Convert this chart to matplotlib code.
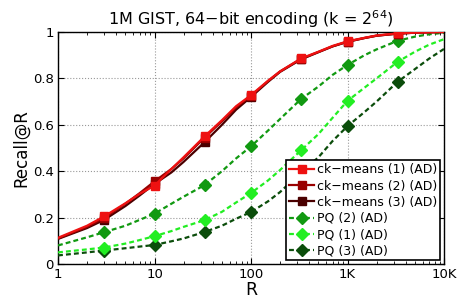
import matplotlib
matplotlib.use("Agg")
import matplotlib.pyplot as plt
from matplotlib.ticker import LogLocator, NullFormatter

R = [1, 2, 3, 5, 7, 10, 15, 20, 33, 50, 70, 100, 150, 200, 330, 500, 700,
     1000, 1500, 2000, 3300, 5000, 7000, 10000]

ck1 = [0.113, 0.165, 0.205, 0.262, 0.302, 0.338, 0.41, 0.46, 0.55, 0.62, 0.68,
       0.728, 0.79, 0.83, 0.886, 0.915, 0.94, 0.96, 0.975, 0.985, 0.994, 0.997,
       0.999, 1.0]
ck2 = [0.11, 0.16, 0.198, 0.26, 0.305, 0.356, 0.41, 0.455, 0.545, 0.615, 0.675,
       0.725, 0.788, 0.83, 0.884, 0.914, 0.938, 0.958, 0.974, 0.984, 0.993, 0.997,
       0.999, 1.0]
ck3 = [0.108, 0.155, 0.19, 0.25, 0.295, 0.345, 0.395, 0.44, 0.525, 0.6, 0.665,
       0.72, 0.785, 0.828, 0.882, 0.913, 0.938, 0.958, 0.974, 0.984, 0.993, 0.997,
       0.999, 1.0]
pq2 = [0.08, 0.115, 0.137, 0.165, 0.19, 0.217, 0.26, 0.29, 0.34, 0.4, 0.455,
       0.507, 0.575, 0.625, 0.711, 0.765, 0.815, 0.858, 0.9, 0.925, 0.962, 0.98,
       0.99, 0.997]
pq1 = [0.05, 0.063, 0.071, 0.088, 0.103, 0.12, 0.142, 0.16, 0.189, 0.225, 0.265,
       0.306, 0.36, 0.405, 0.49, 0.56, 0.63, 0.703, 0.76, 0.8, 0.871, 0.915,
       0.945, 0.969]
pq3 = [0.037, 0.05, 0.058, 0.068, 0.075, 0.082, 0.098, 0.11, 0.138, 0.165, 0.195,
       0.224, 0.27, 0.31, 0.395, 0.46, 0.53, 0.594, 0.655, 0.7, 0.785, 0.84,
       0.885, 0.927]

marks = [2, 5, 8, 11, 14, 17, 20]

series = [
    ("ck\u2212means (1) (AD)", ck1, "#ee1111", "-", "s", 6),
    ("ck\u2212means (2) (AD)", ck2, "#990000", "-", "s", 5),
    ("ck\u2212means (3) (AD)", ck3, "#4a0000", "-", "s", 4),
    ("PQ (2) (AD)", pq2, "#119911", "--", "D", 3),
    ("PQ (1) (AD)", pq1, "#22ee22", "--", "D", 2),
    ("PQ (3) (AD)", pq3, "#0b4d0b", "--", "D", 1),
]

fig = plt.figure(figsize=(4.61, 3.01), dpi=100)
ax = fig.add_axes([58/461, 1-264/301, (444-58)/461, (264-32)/301])

for label, y, c, ls, m, z in series:
    kw = {}
    if ls == "--":
        kw["dashes"] = (2.2, 1.4)
    ax.plot(R, y, color=c, linestyle=ls, linewidth=1.6, marker=m,
            markersize=5.8 if m == "s" else 6.2, markevery=marks,
            markerfacecolor=c, markeredgecolor=c, label=label, zorder=z + 2, **kw)

ax.set_xscale("log")
ax.set_xlim(1, 10000)
ax.set_ylim(0, 1)
ax.set_xticks([1, 10, 100, 1000, 10000])
ax.set_xticklabels(["1", "10", "100", "1K", "10K"])
ax.xaxis.set_minor_locator(LogLocator(base=10, subs=range(2, 10)))
ax.xaxis.set_minor_formatter(NullFormatter())
ax.set_yticks([0, 0.2, 0.4, 0.6, 0.8, 1])
ax.set_yticklabels(["0", "0.2", "0.4", "0.6", "0.8", "1"])
ax.tick_params(which="both", direction="in", top=True, right=True, labelsize=9.5)
ax.tick_params(which="major", length=4, pad=3)
ax.tick_params(which="minor", length=2)
ax.grid(True, which="major", linestyle=":", color="#999999", linewidth=0.8)
for s in ax.spines.values():
    s.set_linewidth(1.0)

ax.set_xlabel("R", fontsize=12.5, labelpad=0)
ax.set_ylabel("Recall@R", fontsize=12, labelpad=2)
ax.set_title("1M GIST, 64\u2212bit encoding (k = 2$^{64}$)", fontsize=11.5, pad=5)

leg = ax.legend(loc="lower right", fontsize=9, frameon=True, fancybox=False,
                edgecolor="black", borderaxespad=0.3, handlelength=2.0,
                labelspacing=0.25, borderpad=0.25, handletextpad=0.2)
leg.get_frame().set_linewidth(1.2)
leg.get_frame().set_alpha(1)

fig.savefig("out.png", dpi=100)
